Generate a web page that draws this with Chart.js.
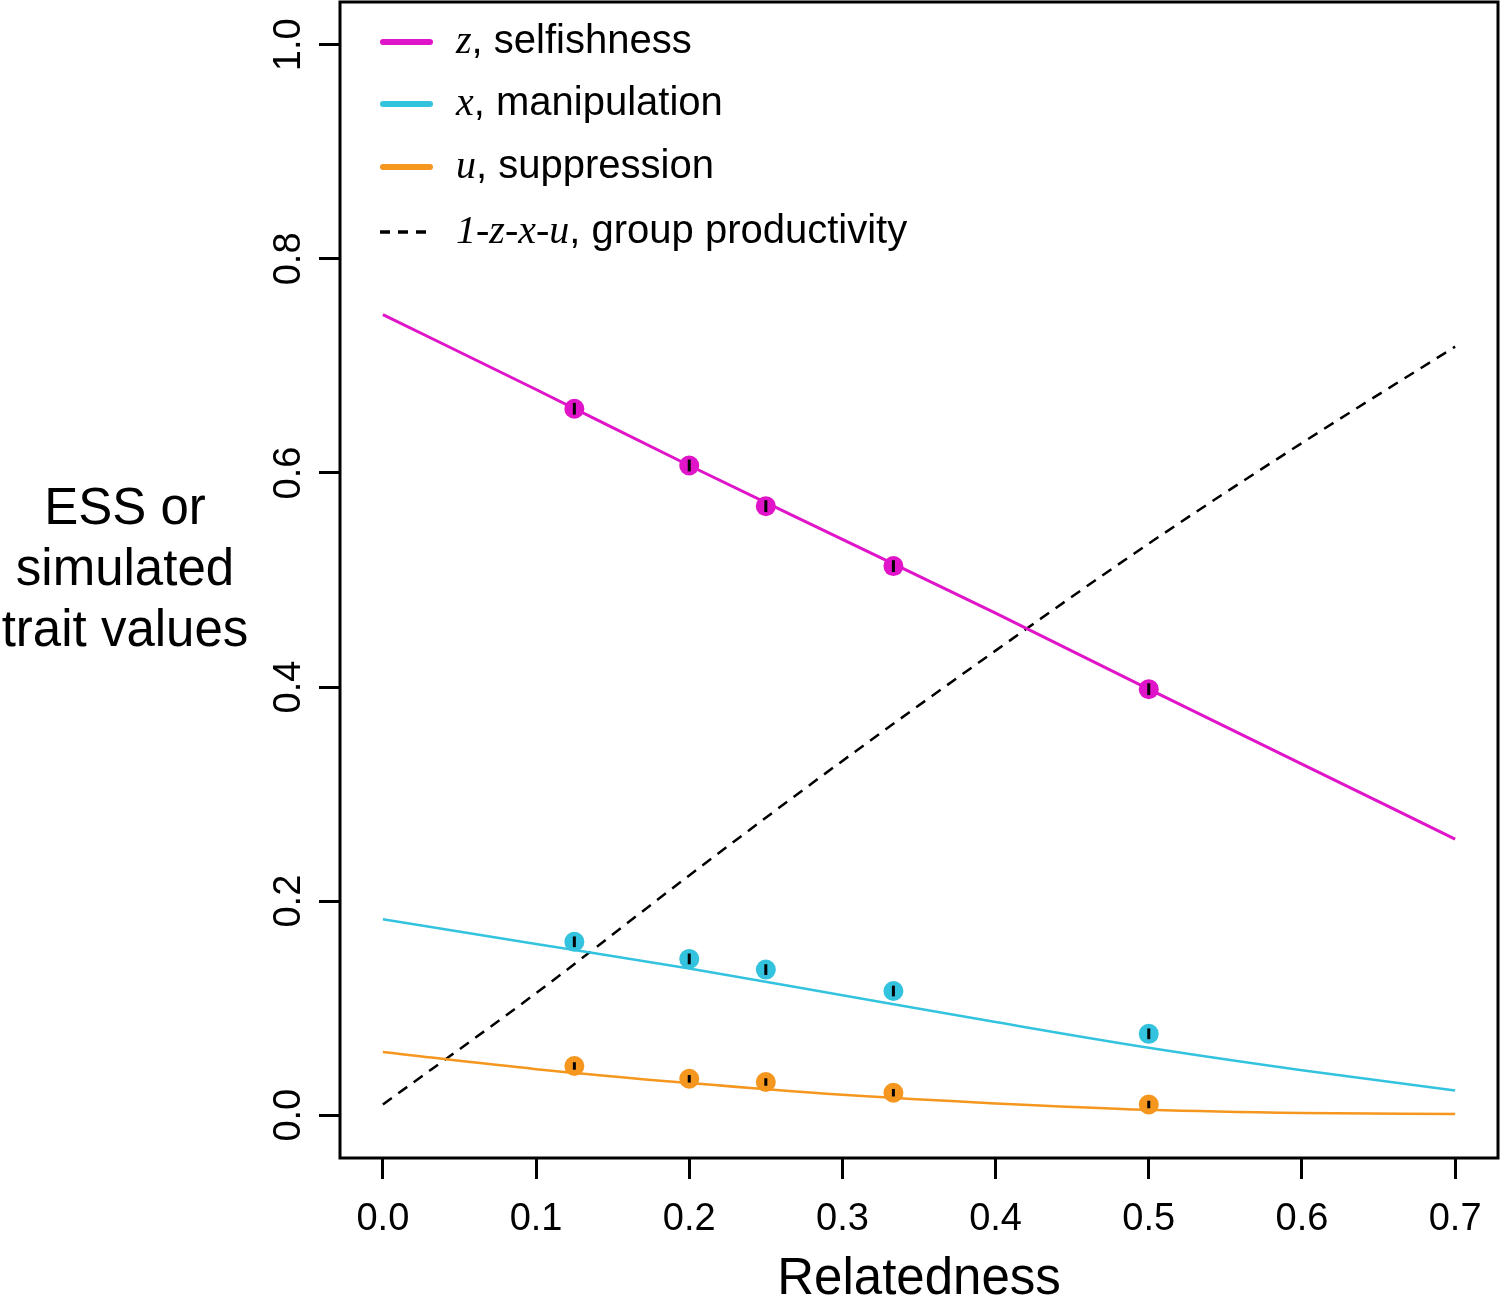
<!DOCTYPE html>
<html>
<head>
<meta charset="utf-8">
<script src="https://cdn.jsdelivr.net/npm/chart.js@4.4.1/dist/chart.umd.min.js"></script>
<style>
    html, body { margin: 0; padding: 0; background: #ffffff; }
    #contenedor { width: 1500px; height: 1305px; position: relative; }
</style>
</head>
<body>
<div id="contenedor"><canvas id="graficaRasgos"></canvas></div>
<script>
// Valores
var relacion = [0, 0.1, 0.2, 0.3, 0.4, 0.5, 0.6, 0.7];
var egoismo = [0.748, 0.678, 0.607, 0.538, 0.469, 0.398, 0.328, 0.258];
var manipulacion = [0.183, 0.160, 0.137, 0.112, 0.087, 0.063, 0.042, 0.023];
var supresion = [0.059, 0.043, 0.030, 0.019, 0.011, 0.005, 0.002, 0.001];
var productividad = [0.010, 0.114, 0.224, 0.331, 0.434, 0.534, 0.628, 0.718];

// Puntos simulados (con su barra de error)
var relacionSim = [0.125, 0.2, 0.25, 0.3333, 0.5];
var egoismoSim = [0.660, 0.607, 0.569, 0.513, 0.398];
var manipulacionSim = [0.162, 0.146, 0.136, 0.116, 0.076];
var supresionSim = [0.046, 0.034, 0.031, 0.021, 0.010];
var errorEgoismo = [0.0055, 0.0055, 0.0055, 0.0055, 0.0055];
var errorManipulacion = [0.005, 0.005, 0.005, 0.005, 0.005];
var errorSupresion = [0.0035, 0.0035, 0.0035, 0.0035, 0.0035];

var ticksX = [0, 0.1, 0.2, 0.3, 0.4, 0.5, 0.6, 0.7];
var ticksY = [0, 0.2, 0.4, 0.6, 0.8, 1.0];

var leyenda = [
    ['z', ', selfishness'],
    ['x', ', manipulation'],
    ['u', ', suppression'],
    ['1-z-x-u', ', group productivity']
];
var tituloY = ['ESS or', 'simulated', 'trait values'];
var tituloX = 'Relatedness';

var rosa = '#e014c8';
var cian = '#33c3df';
var naranja = '#f5961e';
var negro = '#000000';

var sans = '"Liberation Sans", Arial, sans-serif';
var serif = '"Liberation Serif", "Times New Roman", serif';

// Convierte dos listas en puntos {x, y}
function puntos(xs, ys) {
    var res = [];
    for (var i = 0; i < xs.length; i++) {
        res.push({ x: xs[i], y: ys[i] });
    }
    return res;
}

function datosLinea(ys, color, grosor, guiones) {
    return {
        data: puntos(relacion, ys),
        borderColor: color,
        borderWidth: grosor,
        borderDash: guiones || [],
        pointRadius: 0,
        cubicInterpolationMode: 'monotone',
        fill: false,
        order: 2
    };
}

function datosPuntos(ys, errores, color) {
    return {
        data: puntos(relacionSim, ys),
        errores: errores,
        showLine: false,
        pointRadius: 10,
        pointHoverRadius: 10,
        pointBackgroundColor: color,
        pointBorderWidth: 0,
        borderColor: color,
        order: 1
    };
}

// Caja, etiquetas del eje Y, titulo Y, barras de error y leyenda
var pluginFigura = {
    id: 'figura',
    afterDatasetsDraw: function (chart) {
        var ctx = chart.ctx;
        var x = chart.scales.x;
        var y = chart.scales.y;
        ctx.save();
        ctx.strokeStyle = negro;
        ctx.lineWidth = 3;
        chart.data.datasets.forEach(function (ds) {
            if (!ds.errores) return;
            ds.data.forEach(function (p, i) {
                var px = x.getPixelForValue(p.x);
                ctx.beginPath();
                ctx.moveTo(px, y.getPixelForValue(p.y - ds.errores[i]));
                ctx.lineTo(px, y.getPixelForValue(p.y + ds.errores[i]));
                ctx.stroke();
            });
        });
        ctx.restore();
    },
    afterDraw: function (chart) {
        var ctx = chart.ctx;
        var area = chart.chartArea;
        var y = chart.scales.y;
        ctx.save();

        // caja
        ctx.strokeStyle = negro;
        ctx.lineWidth = 3;
        ctx.strokeRect(area.left, area.top, area.right - area.left, area.bottom - area.top);

        // etiquetas del eje Y giradas
        ctx.fillStyle = negro;
        ctx.font = '38px ' + sans;
        ctx.textAlign = 'center';
        ctx.textBaseline = 'middle';
        ticksY.forEach(function (v) {
            ctx.save();
            ctx.translate(290, y.getPixelForValue(v));
            ctx.rotate(-Math.PI / 2);
            ctx.fillText(v.toFixed(1), 0, 0);
            ctx.restore();
        });

        // titulo del eje Y en tres lineas
        ctx.font = '51px ' + sans;
        tituloY.forEach(function (t, i) {
            ctx.fillText(t, 125, 510 + i * 61);
        });

        // leyenda
        var filas = [42, 104, 167, 232];
        var colLeyenda = [rosa, cian, naranja, negro];
        ctx.textAlign = 'left';
        leyenda.forEach(function (item, i) {
            var yy = filas[i];
            ctx.beginPath();
            if (i < 3) {
                ctx.lineWidth = 6;
                ctx.lineCap = 'round';
                ctx.setLineDash([]);
            } else {
                ctx.lineWidth = 3.5;
                ctx.lineCap = 'butt';
                ctx.setLineDash([10, 8]);
            }
            ctx.strokeStyle = colLeyenda[i];
            ctx.moveTo(i < 3 ? 383 : 380, yy);
            ctx.lineTo(430, yy);
            ctx.stroke();
            ctx.setLineDash([]);

            ctx.font = 'italic 40px ' + serif;
            ctx.fillText(item[0], 456, yy);
            var ancho = ctx.measureText(item[0]).width;
            ctx.font = '40px ' + sans;
            ctx.fillText(item[1], 456 + ancho, yy);
        });
        ctx.restore();
    }
};

var canvas = document.getElementById('graficaRasgos');
var ctx = canvas.getContext('2d');

var grafica = new Chart(ctx, {
    type: 'line',
    data: {
        datasets: [
            datosPuntos(egoismoSim, errorEgoismo, rosa),
            datosPuntos(manipulacionSim, errorManipulacion, cian),
            datosPuntos(supresionSim, errorSupresion, naranja),
            datosLinea(egoismo, rosa, 3),
            datosLinea(manipulacion, cian, 2.5),
            datosLinea(supresion, naranja, 2.5),
            datosLinea(productividad, negro, 2.5, [11, 8])
        ]
    },
    options: {
        responsive: true,
        maintainAspectRatio: false,
        animation: false,
        layout: { autoPadding: false, padding: { top: 2, right: 2, left: 0, bottom: 0 } },
        plugins: {
            legend: { display: false },
            tooltip: { enabled: false }
        },
        scales: {
            x: {
                type: 'linear',
                min: -0.028,
                max: 0.728,
                afterBuildTicks: function (s) {
                    s.ticks = ticksX.map(function (v) { return { value: v }; });
                },
                afterFit: function (s) {
                    s.height = 147;
                    s.paddingLeft = 0;
                    s.paddingRight = 0;
                },
                grid: {
                    drawOnChartArea: false,
                    drawTicks: true,
                    tickLength: 21,
                    tickWidth: 3,
                    tickColor: negro
                },
                border: { display: false },
                ticks: {
                    color: negro,
                    padding: 18,
                    maxRotation: 0,
                    font: { family: sans, size: 38 },
                    callback: function (v) { return Number(v).toFixed(1); }
                },
                title: {
                    display: true,
                    text: tituloX,
                    color: negro,
                    padding: 0,
                    font: { family: sans, size: 51, lineHeight: 1 }
                }
            },
            y: {
                type: 'linear',
                min: -0.04,
                max: 1.04,
                afterBuildTicks: function (s) {
                    s.ticks = ticksY.map(function (v) { return { value: v }; });
                },
                afterFit: function (s) {
                    s.width = 340;
                    s.paddingTop = 0;
                    s.paddingBottom = 0;
                },
                grid: {
                    drawOnChartArea: false,
                    drawTicks: true,
                    tickLength: 21,
                    tickWidth: 3,
                    tickColor: negro
                },
                border: { display: false },
                ticks: { display: false }
            }
        }
    },
    plugins: [pluginFigura]
});
</script>
</body>
</html>
